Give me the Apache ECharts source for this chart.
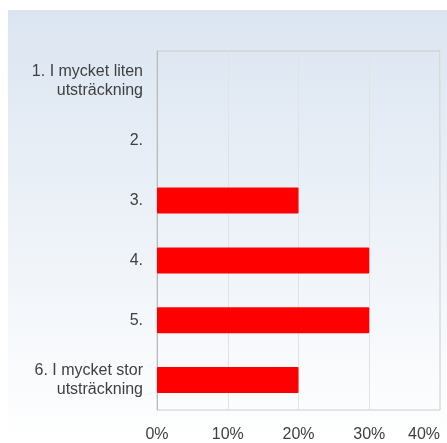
<!DOCTYPE html>
<html>
<head>
<meta charset="utf-8">
<script src="https://cdn.jsdelivr.net/npm/echarts@6/dist/echarts.min.js"></script>
<style>
  html, body { margin: 0; padding: 0; background: #fff; }
  #chart { width: 447px; height: 443px; }
</style>
</head>
<body>
<div id="chart"></div>
<script>
// svarsalternativ, uppifrån och ned
const categories = [
  '1. I mycket liten\nutsträckning',
  '2.',
  '3.',
  '4.',
  '5.',
  '6. I mycket stor\nutsträckning'
];
// andel svar i procent
const percentValues = [0, 0, 20, 30, 30, 20];
const tickLabels = ['0%', '10%', '20%', '30%', '40%'];

const chart = echarts.init(document.getElementById('chart'));

const option = {
  animation: false,
  textStyle: { fontFamily: 'Liberation Sans, Arial, sans-serif' },
  // bakgrundspanel med toning från ljusblått till vitt
  graphic: [{
    type: 'rect',
    z: -10,
    silent: true,
    shape: { x: 8, y: 10, width: 439, height: 433 },
    style: {
      fill: new echarts.graphic.LinearGradient(0, 0, 0, 1, [
        { offset: 0, color: '#dbe5f1' },
        { offset: 1, color: '#ffffff' }
      ])
    }
  }],
  grid: {
    left: 157,
    right: 7,
    top: 51,
    bottom: 33,
    outerBoundsMode: 'none',
    show: true,
    borderColor: '#cccccc',
    borderWidth: 1,
    backgroundColor: 'transparent'
  },
  xAxis: {
    type: 'value',
    min: 0,
    max: 40,
    interval: 10,
    axisLine: { show: false },
    axisTick: { show: false },
    splitLine: { show: true, lineStyle: { color: '#e2e2e2', width: 1 } },
    axisLabel: {
      color: '#404040',
      fontSize: 16,
      margin: 17,
      alignMaxLabel: 'right',
      formatter: function (v) { return tickLabels[v / 10]; }
    }
  },
  yAxis: {
    type: 'category',
    inverse: true,
    data: categories,
    axisLine: { show: true, lineStyle: { color: '#bbbbbb' } },
    axisTick: { show: false },
    axisLabel: {
      color: '#404040',
      fontSize: 16,
      lineHeight: 19,
      margin: 14,
      align: 'right'
    }
  },
  series: [{
    type: 'bar',
    data: percentValues,
    barWidth: 26,
    itemStyle: { color: '#ff0000', borderRadius: 1 }
  }]
};

chart.setOption(option);
</script>
</body>
</html>
